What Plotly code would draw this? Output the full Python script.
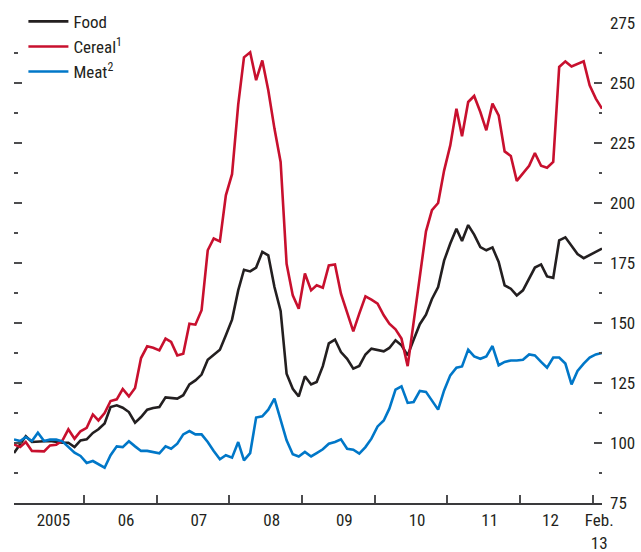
import pandas as pd
import plotly.graph_objects as go

# Monthly index values, Jan 2005 = 100 (approx.), Jan 2005 .. Feb 2013
food = [95.8, 99.4, 102.8, 100.4, 100.7, 100.7, 100.8, 100.4, 100.1, 100.1, 98.3, 101.1,
        101.5, 104.2, 105.7, 108.1, 115.0, 115.7, 114.7, 112.9, 108.5, 110.8, 113.9, 114.6,
        115.0, 119.0, 118.9, 118.5, 119.9, 124.4, 126.1, 128.5, 134.7, 136.9, 138.9, 144.9,
        151.4, 163.6, 172.2, 171.5, 173.1, 179.6, 178.2, 165.0, 155.0, 128.9, 122.6, 119.4,
        127.8, 124.4, 125.4, 132.0, 141.5, 143.1, 137.9, 135.1, 131.0, 132.1, 136.9, 139.3,
        138.6, 138.2, 139.6, 142.8, 140.7, 136.5, 143.0, 149.5, 153.5, 160.0, 165.0, 176.0,
        183.1, 189.3, 184.2, 190.8, 186.8, 181.6, 180.3, 181.5, 175.4, 165.7, 164.3, 161.5,
        163.6, 168.5, 173.1, 174.4, 169.4, 168.8, 184.4, 185.7, 181.9, 178.7, 177.0, 178.3,
        179.6, 181.0]
cereal = [99.4, 98.3, 100.4, 96.7, 96.6, 96.5, 99.0, 99.3, 101.0, 105.7, 101.8, 104.9,
          106.3, 111.9, 109.4, 112.5, 117.5, 118.2, 122.5, 119.4, 122.9, 135.4, 140.3, 139.7,
          138.6, 143.5, 142.1, 136.5, 137.2, 149.7, 149.3, 155.3, 180.3, 185.2, 184.0, 203.2,
          212.0, 241.0, 260.7, 262.8, 251.2, 259.4, 247.0, 231.0, 217.1, 174.7, 161.5, 155.9,
          170.6, 163.6, 165.7, 164.7, 174.0, 174.4, 162.2, 153.9, 146.5, 153.9, 161.1, 159.7,
          158.1, 153.2, 149.7, 147.4, 143.5, 132.0, 151.0, 168.5, 188.2, 197.0, 200.0, 213.5,
          224.0, 239.3, 227.8, 242.1, 244.6, 237.9, 230.3, 241.4, 236.5, 221.5, 219.6, 209.2,
          212.2, 215.5, 220.8, 215.5, 214.7, 217.1, 256.7, 259.0, 256.9, 257.8, 259.0, 249.0,
          243.5, 239.3]
meat = [101.5, 100.8, 102.5, 100.8, 104.3, 100.8, 101.4, 101.4, 100.7, 98.3, 96.0, 94.6,
        91.7, 92.5, 91.1, 89.7, 94.9, 98.6, 98.3, 100.7, 98.6, 96.7, 96.7, 96.3,
        95.7, 98.6, 97.6, 99.7, 103.6, 105.0, 103.6, 103.6, 100.4, 96.7, 93.2, 94.9,
        93.9, 100.4, 92.8, 95.8, 110.6, 111.1, 113.9, 118.5, 109.4, 101.1, 95.3, 94.4,
        96.3, 94.4, 95.8, 97.4, 99.7, 100.4, 101.5, 97.6, 97.2, 95.6, 98.3, 101.8,
        106.9, 109.4, 114.3, 122.2, 123.6, 116.7, 117.1, 121.7, 121.3, 117.8, 113.9, 121.9,
        128.2, 131.4, 131.9, 138.9, 136.1, 135.1, 136.1, 140.4, 132.4, 133.8, 134.4, 134.4,
        134.7, 136.9, 136.5, 133.8, 131.4, 135.6, 135.6, 133.1, 124.4, 130.0, 133.1, 135.6,
        136.9, 137.5]

months = pd.date_range("2005-01-01", "2013-02-01", freq="MS") + pd.Timedelta(days=14)

x_label_pos = ["2005-08-01", "2006-08-01", "2007-08-01", "2008-08-01", "2009-08-01",
               "2010-08-01", "2011-08-01", "2012-06-01", "2013-02-01"]
x_label_text = ["2005", "06", "07", "08", "09", "10", "11", "12", "Feb.<br>13"]
year_bounds = [f"{y}-01-01" for y in range(2006, 2014)]

y_major = [75, 100, 125, 150, 175, 200, 225, 250, 275]
y_minor = [87.5, 112.5, 137.5, 162.5, 187.5, 212.5, 237.5, 262.5]

FONT = "Liberation Sans Narrow, Arial Narrow, Roboto Condensed, DejaVu Sans Condensed, sans-serif"
TXT = "#231f20"
TICK = "#4d4d4f"

fig = go.Figure()
fig.add_trace(go.Scatter(x=months, y=food, name="Food", mode="lines",
                         line=dict(color="#231f20", width=2.6)))
fig.add_trace(go.Scatter(x=months, y=cereal, name="Cereal<sup>1</sup>", mode="lines",
                         line=dict(color="#c8102e", width=2.6)))
fig.add_trace(go.Scatter(x=months, y=meat, name="Meat<sup>2</sup>", mode="lines",
                         line=dict(color="#0077c8", width=2.6)))
fig.add_trace(go.Scatter(x=[months[0]], y=[None], yaxis="y2", showlegend=False,
                         hoverinfo="skip", mode="lines"))

fig.update_layout(
    width=641, height=552,
    margin=dict(l=14, r=39, t=23, b=49, autoexpand=False),
    paper_bgcolor="white", plot_bgcolor="white",
    font=dict(family=FONT, size=17, color=TXT),
    showlegend=True,
    legend=dict(x=0.016, y=1.04, xanchor="left", yanchor="top",
                bgcolor="rgba(0,0,0,0)", font=dict(size=17, color=TXT),
                itemwidth=40, tracegroupgap=0),
    xaxis=dict(
        type="date",
        range=[months[0], months[-1]],
        showgrid=False, zeroline=False,
        showline=True, linecolor="#3a3a3c", linewidth=2,
        tickmode="array", tickvals=x_label_pos, ticktext=x_label_text,
        ticks="", ticklen=0, ticklabelstandoff=1,
        tickfont=dict(size=17, color=TXT),
        minor=dict(tickmode="array", tickvals=year_bounds, ticks="inside",
                   ticklen=8, tickwidth=1.5, tickcolor=TICK, showgrid=False),
    ),
    yaxis=dict(
        range=[75, 275], showgrid=False, zeroline=False, showline=False,
        tickmode="array", tickvals=y_major, ticks="inside", ticklen=8,
        tickwidth=1.5, tickcolor=TICK, showticklabels=False,
        minor=dict(tickmode="array", tickvals=y_minor, ticks="inside",
                   ticklen=3.5, tickwidth=1.5, tickcolor=TICK, showgrid=False),
    ),
    yaxis2=dict(
        range=[75, 275], overlaying="y", side="right", anchor="x",
        showgrid=False, zeroline=False, showline=False,
        tickmode="array", tickvals=y_major, ticks="inside", ticklen=8,
        tickwidth=1.5, tickcolor=TICK, showticklabels=True,
        tickfont=dict(size=17, color=TXT), ticklabelstandoff=7,
        minor=dict(tickmode="array", tickvals=y_minor, ticks="inside",
                   ticklen=3.5, tickwidth=1.5, tickcolor=TICK, showgrid=False),
    ),
)

fig.write_html("out.html", config={"displayModeBar": False},
               post_script="document.body.style.margin='0';")
